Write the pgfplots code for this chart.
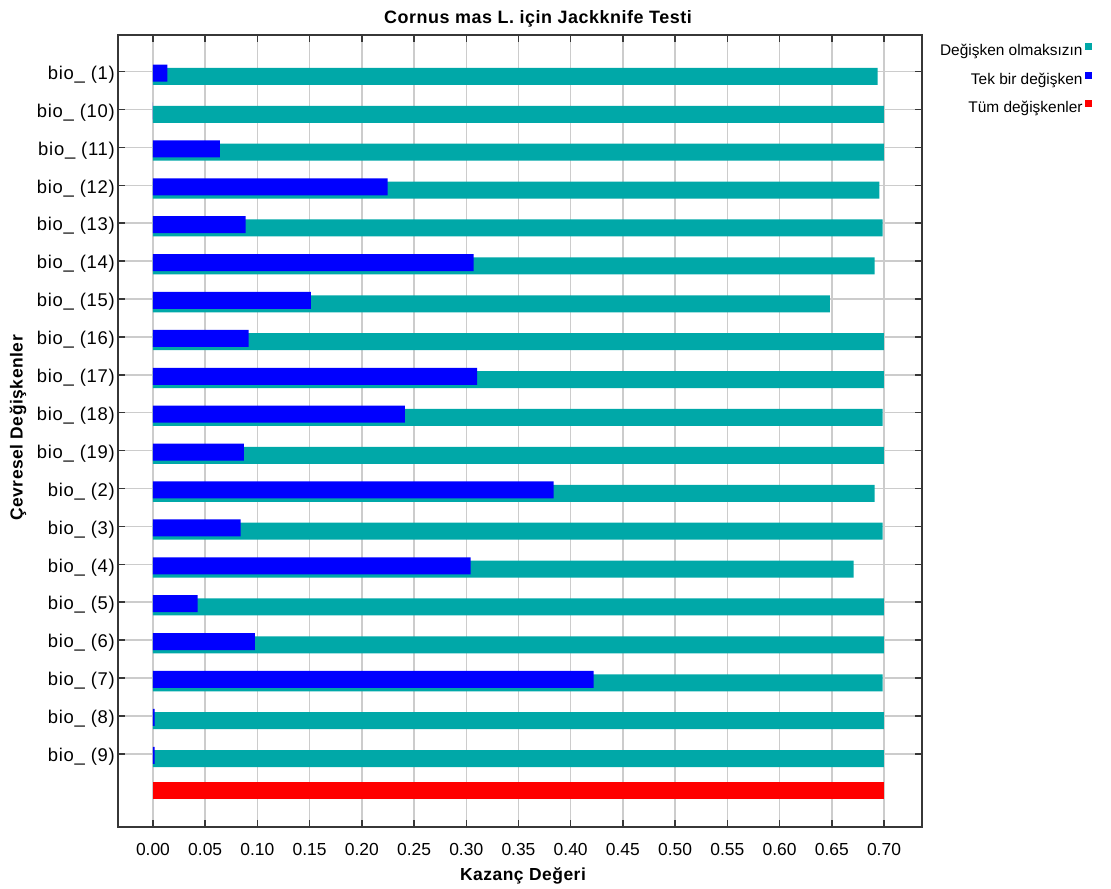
\documentclass[border=0pt]{standalone}
\usepackage{fontspec}
\setmainfont{Liberation Sans}
\newfontfamily\spacedA{Liberation Sans}[LetterSpace=3.0]
\newfontfamily\spacedB{Liberation Sans}[LetterSpace=4.0]
\usepackage{pgfplots}
\pgfplotsset{compat=1.18}
\usepackage{pgfplotstable}
\definecolor{tealbar}{RGB}{0,168,168}
\definecolor{bluebar}{RGB}{0,0,255}
\definecolor{redbar}{RGB}{255,0,0}
\definecolor{gridgray}{RGB}{204,204,204}
\definecolor{framegray}{RGB}{55,55,55}

% Jackknife: gain without the variable
\pgfplotstableread{
y x
0.127 0.6940
1.127 0.7000
2.127 0.7000
3.127 0.6955
4.127 0.6987
5.127 0.6911
6.127 0.6483
7.127 0.7000
8.127 0.7000
9.127 0.6987
10.127 0.7000
11.127 0.6911
12.127 0.6987
13.127 0.6710
14.127 0.7000
15.127 0.7000
16.127 0.6987
17.127 0.7000
18.127 0.7000
}\without

% gain with only the variable
\pgfplotstableread{
y x
0.04 0.0137
1.04 0.0000
2.04 0.0640
3.04 0.2247
4.04 0.0887
5.04 0.3071
6.04 0.1513
7.04 0.0916
8.04 0.3103
9.04 0.2413
10.04 0.0871
11.04 0.3837
12.04 0.0840
13.04 0.3042
14.04 0.0428
15.04 0.0977
16.04 0.4220
17.04 0.0016
18.04 0.0016
}\only

% gain with all variables
\pgfplotstableread{
y x
18.98 0.7000
}\allvars

\begin{document}
\begin{tikzpicture}
\begin{axis}[
  at={(0,0)}, anchor=south west,
  x=1044.3bp, y=37.9bp,
  xmin=-0.0332, xmax=0.7361,
  ymin=-0.976, ymax=19.94,
  y dir=reverse,
  enlargelimits=false,
  xtick={0,0.05,0.10,0.15,0.20,0.25,0.30,0.35,0.40,0.45,0.50,0.55,0.60,0.65,0.70},
  /pgf/number format/assume math mode=true,
  xticklabel style={/pgf/number format/fixed,/pgf/number format/precision=2,
    /pgf/number format/fixed zerofill, font=\fontsize{17.5}{20}\selectfont, yshift=-12bp},
  ytick={0,...,18},
  yticklabels={bio\_ (1),bio\_ (10),bio\_ (11),bio\_ (12),bio\_ (13),bio\_ (14),bio\_ (15),
    bio\_ (16),bio\_ (17),bio\_ (18),bio\_ (19),bio\_ (2),bio\_ (3),bio\_ (4),bio\_ (5),
    bio\_ (6),bio\_ (7),bio\_ (8),bio\_ (9)},
  yticklabel style={font=\spacedB\fontsize{18.5}{20}\selectfont, yshift=-3bp},
  tick align=inside,
  tick pos=both,
  major tick length=7bp,
  tick style={framegray, line width=1.5bp},
  axis line style={framegray, line width=2bp},
  grid=major,
  major grid style={gridgray, line width=1.5bp},
  every axis title shift=0pt,
  title={Cornus mas L. için Jackknife Testi},
  title style={at={(axis description cs:0.5224,1.0135)}, anchor=base, yshift=0pt,
    font=\spacedA\bfseries\fontsize{18}{20}\selectfont},
  xlabel={Kazanç Değeri},
  xlabel style={at={(axis description cs:0.5037,-0.0674)}, anchor=base, yshift=0pt,
    font=\spacedA\bfseries\fontsize{17.5}{20}\selectfont},
  ylabel={Çevresel Değişkenler},
  ylabel style={at={(axis description cs:-0.119,0.5038)}, anchor=base,
    font=\spacedA\bfseries\fontsize{17.5}{20}\selectfont},
  legend plot pos=right,
  legend cell align=right,
  legend style={at={(axis description cs:1.2123,0.9895)}, anchor=north east,
    draw=none, fill=none, inner sep=0pt, row sep=13bp, column sep=2.5bp,
    font=\fontsize{15.5}{18}\selectfont,
    nodes={inner sep=0pt, text height=11bp, text depth=3bp}},
]
\addplot[xbar, bar width=17bp, bar shift=0pt, fill=tealbar, draw=none,
  legend image code/.code={\fill[tealbar] (0bp,1.5bp) rectangle (7bp,8.5bp);}]
  table[x=x, y=y] {\without};
\addlegendentry{Değişken olmaksızın}
\addplot[xbar, bar width=17bp, bar shift=0pt, fill=bluebar, draw=none,
  legend image code/.code={\fill[bluebar] (0bp,1.5bp) rectangle (7bp,8.5bp);}]
  table[x=x, y=y] {\only};
\addlegendentry{Tek bir değişken}
\addplot[xbar, bar width=17bp, bar shift=0pt, fill=redbar, draw=none,
  legend image code/.code={\fill[redbar] (0bp,1.5bp) rectangle (7bp,8.5bp);}]
  table[x=x, y=y] {\allvars};
\addlegendentry{Tüm değişkenler}
\end{axis}
\pgfresetboundingbox
\path[use as bounding box] (-118.3bp,-61.7bp) rectangle (992.7bp,827.3bp);
\end{tikzpicture}
\end{document}
